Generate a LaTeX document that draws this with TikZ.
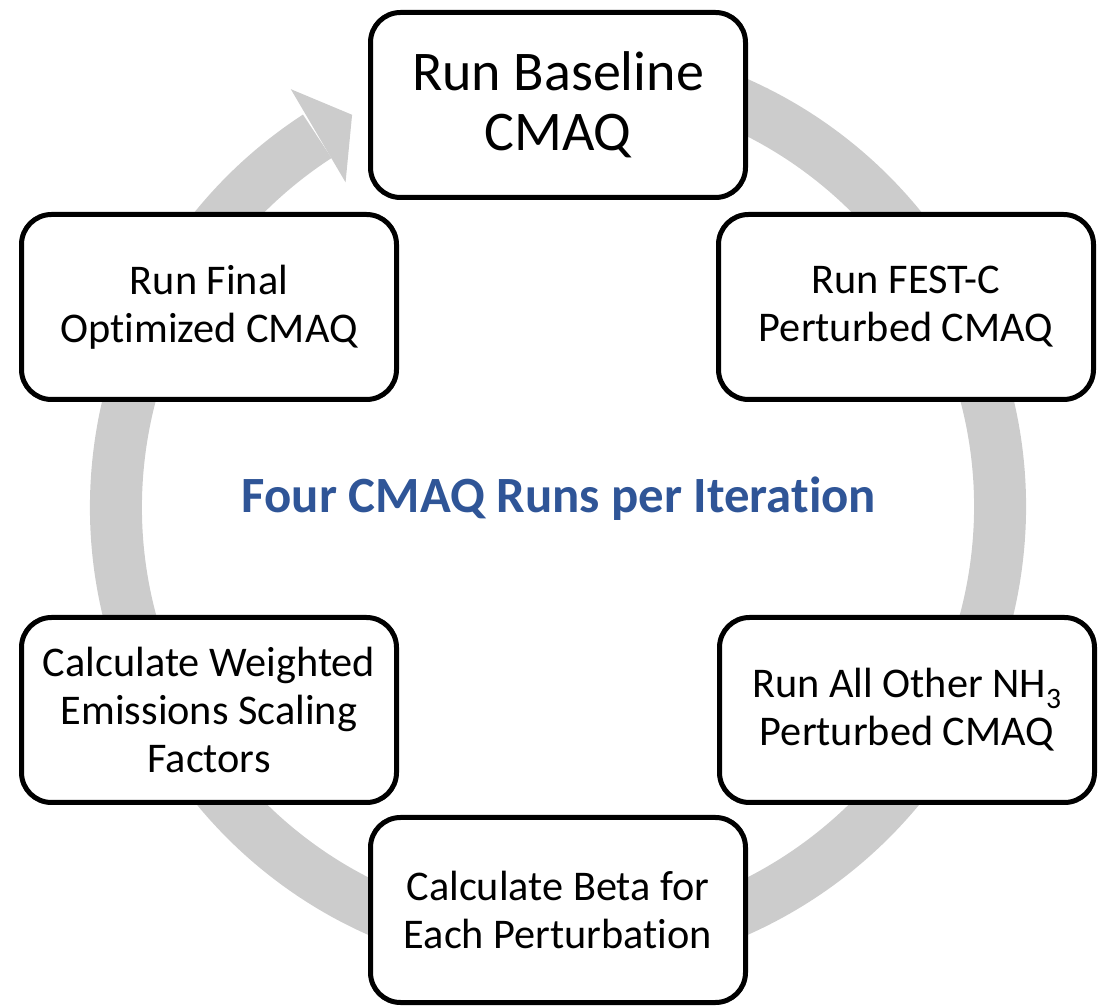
\documentclass[tikz,border=0pt]{standalone}
\usepackage{fontspec}
\setmainfont{Carlito}[Ligatures={NoCommon,NoContextual}]
\definecolor{ringgray}{RGB}{204,204,204}
\definecolor{titleblue}{RGB}{47,85,151}

\begin{document}
\begin{tikzpicture}[x=1pt, y=1pt,
    runbox/.style={draw=black, line width=5pt, fill=white, rounded corners=30pt,
        minimum width=375pt, minimum height=185pt, align=center,
        font=\fontsize{42.3}{48}\selectfont}]
    \useasboundingbox (0,0) rectangle (1101,1005);

    % Cycle arrow
    \coordinate (hub) at (558,498);
    \draw[ringgray, line width=52pt] ([shift={(80:442)}]hub) arc[start angle=80, end angle=-237, radius=442];
    \fill[ringgray] ([shift={(122.6:496)}]hub) -- ([shift={(117.7:443)}]hub) -- ([shift={(123.2:388)}]hub) -- cycle;

    % Steps
    \node[runbox, font=\fontsize{56}{60}\selectfont] (baseline) at (558,900) {Run Baseline\\CMAQ};
    \node[runbox] (festc) at (906,698) {Run FEST-C\\Perturbed CMAQ};
    \node[runbox] (othernh) at (907,295) {Run All Other NH\textsubscript{3}\\Perturbed CMAQ};
    \node[runbox] (beta) at (558,95) {Calculate Beta for\\Each Perturbation};
    \node[runbox] (weights) at (209,295) {Calculate Weighted\\Emissions Scaling\\Factors};
    \node[runbox] (final) at (209,698) {Run Final\\Optimized CMAQ};

    % Center label
    \node[font=\fontsize{50.8}{56}\selectfont\bfseries, text=titleblue, anchor=base] (title) at (559,492) {Four CMAQ Runs per Iteration};
\end{tikzpicture}
\end{document}
